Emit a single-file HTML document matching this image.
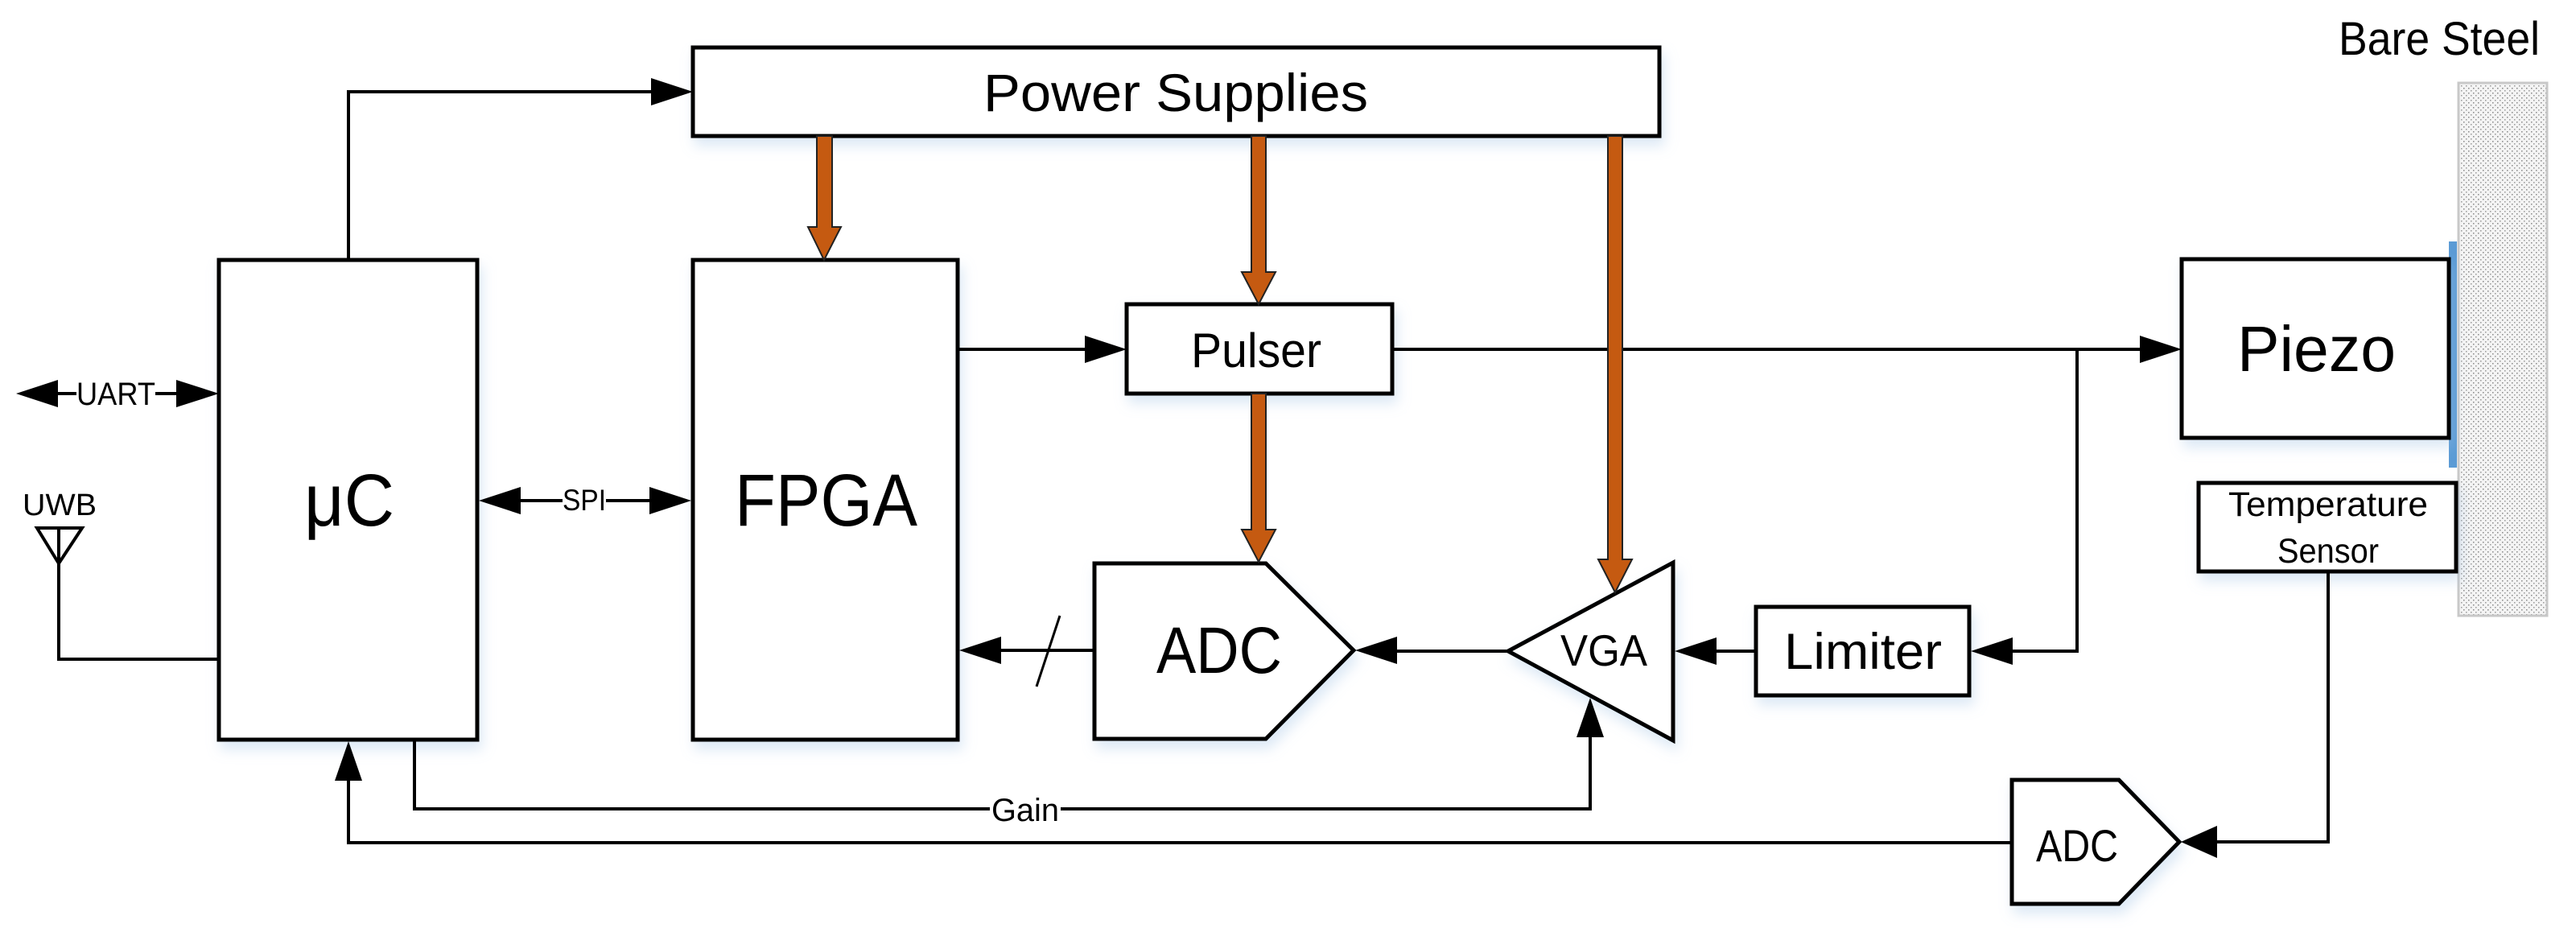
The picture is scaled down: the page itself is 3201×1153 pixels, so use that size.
<!DOCTYPE html>
<html><head><meta charset="utf-8"><style>
html,body{margin:0;padding:0;background:#fff;}
svg{display:block;}
text{font-family:"Liberation Sans",sans-serif;fill:#000;}
</style></head><body>
<svg width="3201" height="1153" viewBox="0 0 3201 1153" xmlns="http://www.w3.org/2000/svg">
<defs>
<pattern id="dots" width="6" height="6" patternUnits="userSpaceOnUse">
<rect width="6" height="6" fill="#f4f4f4"/><rect x="1" y="1" width="1.5" height="1.5" fill="#888"/><rect x="4" y="4" width="1.5" height="1.5" fill="#999"/>
</pattern>
<filter id="sh" x="-10%" y="-10%" width="130%" height="130%">
<feDropShadow dx="4" dy="10" stdDeviation="8" flood-color="#9cc0e4" flood-opacity="0.35"/>
</filter>
</defs>

<!-- Steel -->
<rect x="3055" y="103" width="110" height="662" fill="url(#dots)" stroke="#c8c8c8" stroke-width="3"/>
<rect x="3043" y="300" width="10" height="281" fill="#5b9bd5"/>
<text x="2906" y="68" font-size="58" textLength="250" lengthAdjust="spacingAndGlyphs">Bare Steel</text>

<g fill="#fff" stroke="#000" stroke-width="5" filter="url(#sh)">
<rect x="861" y="59" width="1201" height="110"/>
<rect x="272" y="323" width="321" height="596"/>
<rect x="861" y="323" width="329" height="596"/>
<rect x="1400" y="378" width="330" height="111"/>
<polygon points="1360,700 1573,700 1682,808 1573,918 1360,918"/>
<polygon points="1874,809 2079,699 2079,920"/>
<rect x="2182" y="754" width="265" height="110"/>
<rect x="2711" y="322" width="332" height="222"/>
<rect x="2732" y="600" width="320" height="110"/>
<polygon points="2500,969 2633,969 2708,1046 2633,1123 2500,1123"/>
</g>

<!-- connectors -->
<g fill="none" stroke="#000" stroke-width="4">
<polyline points="433,323 433,114 815,114"/>
<line x1="60" y1="489" x2="95" y2="489"/><line x1="193" y1="489" x2="230" y2="489"/>
<line x1="635" y1="622" x2="699" y2="622"/><line x1="753" y1="622" x2="815" y2="622"/>
<polyline points="73,700 73,819 272,819"/>
<line x1="1190" y1="434" x2="1352" y2="434"/>
<line x1="1360" y1="808" x2="1236" y2="808"/>
<line x1="1730" y1="434" x2="2665" y2="434"/>
<polyline points="2581,434 2581,809 2495,809"/>
<line x1="2182" y1="809" x2="2125" y2="809"/>
<line x1="1874" y1="809" x2="1728" y2="809"/>
<polyline points="515,919 515,1005 1230,1005"/><polyline points="1318,1005 1976,1005 1976,912"/>
<polyline points="2500,1047 433,1047 433,965"/>
<polyline points="2893,710 2893,1046 2755,1046"/>
</g>
<line x1="1317" y1="765" x2="1288" y2="853" stroke="#000" stroke-width="3"/>
<polygon points="46,656 102,656 73,700" fill="none" stroke="#000" stroke-width="4"/>
<line x1="73" y1="656" x2="73" y2="700" stroke="#000" stroke-width="4"/>

<!-- arrowheads -->
<g fill="#000">
<polygon points="861,114 809,97 809,131"/>
<polygon points="20,489 72,472 72,506"/>
<polygon points="272,489 219,472 219,506"/>
<polygon points="595,622 647,605 647,639"/>
<polygon points="859,622 807,605 807,639"/>
<polygon points="1400,434 1348,417 1348,451"/>
<polygon points="1192,808 1244,791 1244,825"/>
<polygon points="2711,434 2659,417 2659,451"/>
<polygon points="2449,809 2501,792 2501,826"/>
<polygon points="2081,809 2133,792 2133,826"/>
<polygon points="1684,808 1736,791 1736,825"/>
<polygon points="1976,867 1959,916 1993,916"/>
<polygon points="433,921 416,970 450,970"/>
<polygon points="2710,1046 2755,1026 2755,1066"/>
</g>

<!-- orange power arrows -->
<g fill="#c55a11" stroke="#222" stroke-width="2">
<polygon points="1015,169 1034,169 1034,282 1045,282 1024,323 1004,282 1015,282"/>
<polygon points="1555,169 1573,169 1573,338 1585,338 1564,378 1543,338 1555,338"/>
<polygon points="1555,489 1573,489 1573,658 1585,658 1564,698 1543,658 1555,658"/>
<polygon points="1998,169 2016,169 2016,695 2028,695 2007,736 1986,695 1998,695"/>
</g>

<!-- labels -->
<text x="1222" y="138" font-size="66" textLength="478" lengthAdjust="spacingAndGlyphs">Power Supplies</text>
<text x="378" y="653" font-size="92" textLength="112" lengthAdjust="spacingAndGlyphs">μC</text>
<text x="913" y="653" font-size="92" textLength="227" lengthAdjust="spacingAndGlyphs">FPGA</text>
<text x="1480" y="456" font-size="60" textLength="162" lengthAdjust="spacingAndGlyphs">Pulser</text>
<text x="1437" y="836" font-size="82" textLength="156" lengthAdjust="spacingAndGlyphs">ADC</text>
<text x="1939" y="827" font-size="55" textLength="108" lengthAdjust="spacingAndGlyphs">VGA</text>
<text x="2217" y="831" font-size="63" textLength="196" lengthAdjust="spacingAndGlyphs">Limiter</text>
<text x="2780" y="461" font-size="80" textLength="197" lengthAdjust="spacingAndGlyphs">Piezo</text>
<text x="2769" y="641" font-size="43" textLength="248" lengthAdjust="spacingAndGlyphs">Temperature</text>
<text x="2830" y="699" font-size="43" textLength="126" lengthAdjust="spacingAndGlyphs">Sensor</text>
<text x="2530" y="1070" font-size="56" textLength="102" lengthAdjust="spacingAndGlyphs">ADC</text>
<text x="95" y="503" font-size="40" textLength="98" lengthAdjust="spacingAndGlyphs">UART</text>
<text x="699" y="634" font-size="37" textLength="54" lengthAdjust="spacingAndGlyphs">SPI</text>
<text x="28" y="640" font-size="38" textLength="92" lengthAdjust="spacingAndGlyphs">UWB</text>
<text x="1232" y="1020" font-size="40" textLength="84" lengthAdjust="spacingAndGlyphs">Gain</text>
</svg>
</body></html>
